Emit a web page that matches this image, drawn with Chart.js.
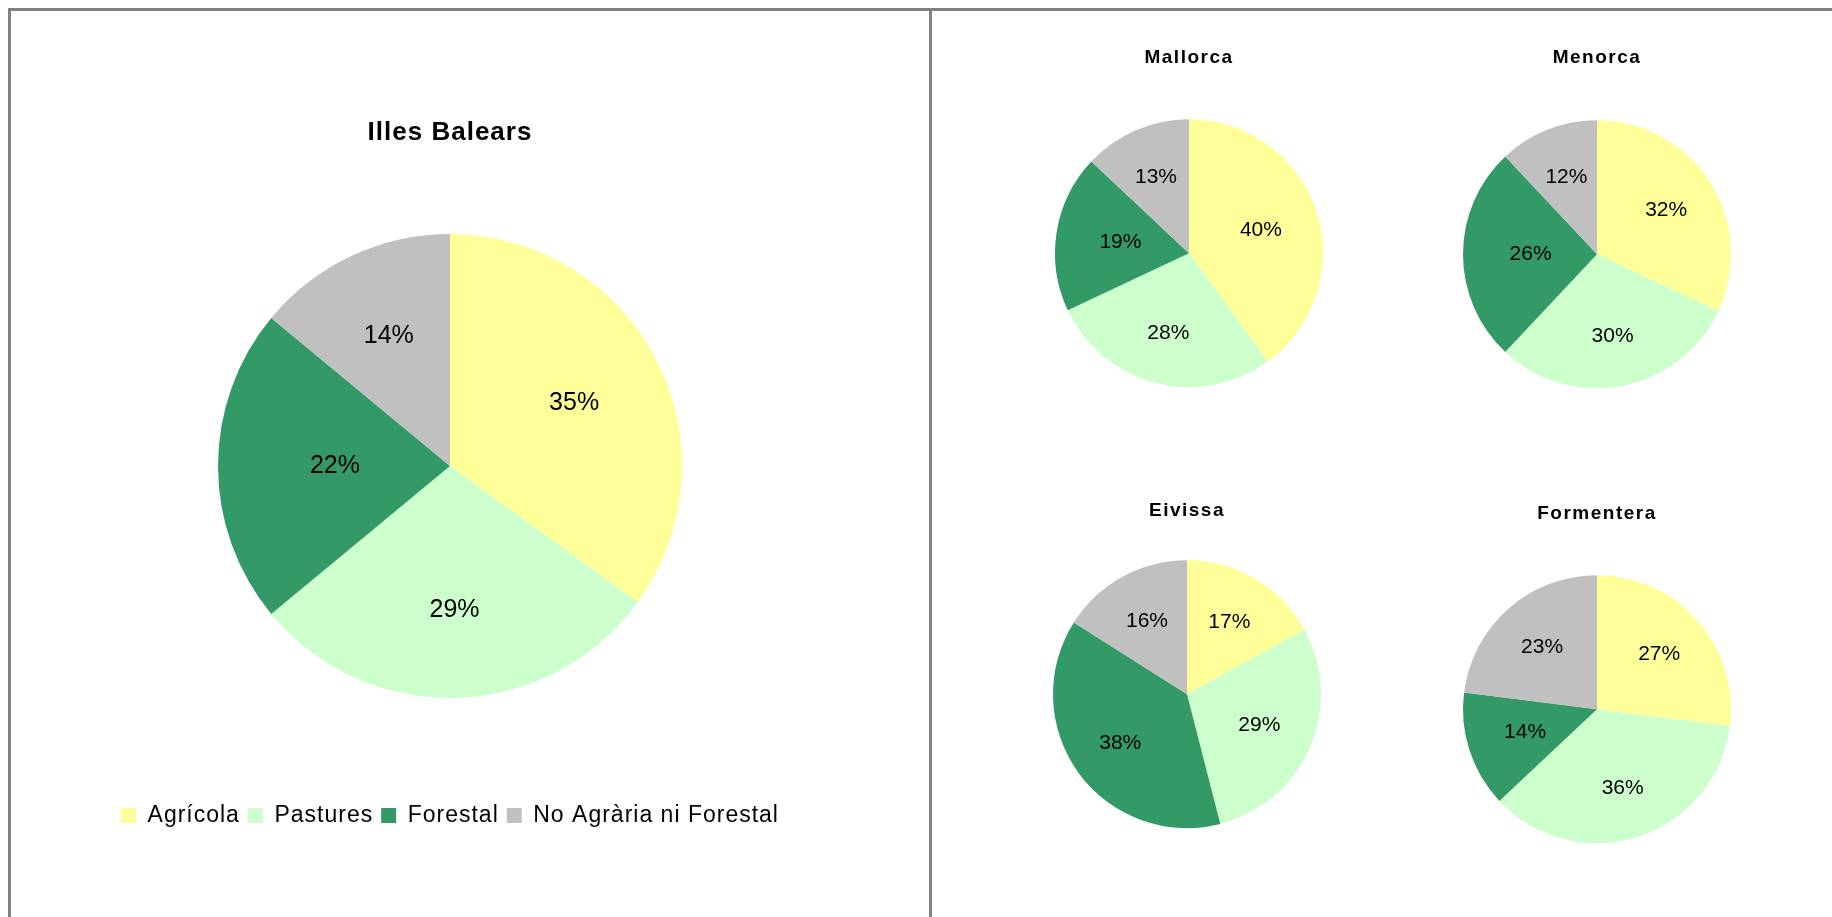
<!DOCTYPE html>
<html><head><meta charset="utf-8">
<script src="https://cdn.jsdelivr.net/npm/chart.js@4.4.0/dist/chart.umd.min.js"></script>
<style>
html,body{margin:0;padding:0;background:#fff;width:1832px;height:917px;overflow:hidden;position:relative;}
.ln{position:absolute;background:#808080;}
.cv{position:absolute;}
</style></head><body>
<div class="ln" style="left:8px;top:8px;width:1824px;height:3px"></div>
<div class="ln" style="left:8px;top:8px;width:3px;height:909px"></div>
<div class="ln" style="left:929px;top:8px;width:3px;height:909px"></div>
<div class="cv" style="left:11px;top:11px;width:918px;height:906px"><canvas id="c0"></canvas></div>
<div class="cv" style="left:989px;top:30px;width:400px;height:407px"><canvas id="c1"></canvas></div>
<div class="cv" style="left:1397px;top:30px;width:400px;height:409px"><canvas id="c2"></canvas></div>
<div class="cv" style="left:987px;top:470px;width:400px;height:396px"><canvas id="c3"></canvas></div>
<div class="cv" style="left:1397px;top:470px;width:400px;height:423px"><canvas id="c4"></canvas></div>
<script>
const categories = ['Agrícola', 'Pastures', 'Forestal', 'No Agrària ni Forestal'];
const balearsValues = [35, 29, 22, 14];
const mallorcaValues = [40, 28, 19, 13];
const menorcaValues = [32, 30, 26, 12];
const eivissaValues = [17, 29, 38, 16];
const formenteraValues = [27, 36, 14, 23];
const chartTitles = ['Illes Balears', 'Mallorca', 'Menorca', 'Eivissa', 'Formentera'];
const sliceColors = ['#FFFF99', '#CCFFCC', '#339966', '#C0C0C0'];
const FONT = '"Liberation Sans", Arial, sans-serif';

const pctLabels = {
  id: 'pctLabels',
  afterDatasetsDraw(chart, args, opts) {
    const ctx = chart.ctx;
    const meta = chart.getDatasetMeta(0);
    const vals = chart.data.datasets[0].data;
    ctx.save();
    ctx.letterSpacing = '0px';
    ctx.font = opts.size + 'px ' + FONT;
    ctx.fillStyle = '#000';
    ctx.textAlign = 'center';
    ctx.textBaseline = 'middle';
    meta.data.forEach((arc, i) => {
      const p = arc.getProps(['x', 'y', 'startAngle', 'endAngle', 'outerRadius'], true);
      const mid = (p.startAngle + p.endAngle) / 2;
      const c = Math.abs(Math.cos(mid));
      const d = p.outerRadius * 0.62 * (1 - 0.2 * Math.pow(c, 16));
      ctx.fillText(vals[i] + '%', p.x + Math.cos(mid) * d, p.y + Math.sin(mid) * d);
    });
    ctx.restore();
  }
};

const spacing = {
  id: 'spacing',
  beforeLayout(chart, args, opts) { if (opts.value) chart.ctx.letterSpacing = opts.value; },
  beforeDraw(chart, args, opts) { if (opts.value) chart.ctx.letterSpacing = opts.value; },
  beforeDatasetsDraw(chart) { chart.ctx.letterSpacing = '0px'; }
};

function makeChart(id, title, values, cfg) {
  return new Chart(document.getElementById(id), {
    type: 'pie',
    data: {
      labels: categories,
      datasets: [{ data: values, backgroundColor: sliceColors, borderWidth: 0, radius: cfg.radius }]
    },
    options: {
      responsive: true,
      maintainAspectRatio: false,
      animation: false,
      events: [],
      layout: { padding: cfg.layoutPadding },
      plugins: {
        tooltip: { enabled: false },
        title: {
          display: true, text: title, color: '#000',
          font: { family: FONT, size: cfg.titleSize, weight: 'bold', lineHeight: 1.2 },
          padding: cfg.titlePadding
        },
        legend: cfg.legend ? {
          display: true, position: 'bottom',
          labels: { color: '#000', font: { family: FONT, size: 23 }, boxWidth: 15, boxHeight: 15, padding: 8 }
        } : { display: false },
        pctLabels: { size: cfg.labelSize },
        spacing: { value: cfg.letterSpacing }
      }
    },
    plugins: [pctLabels, spacing]
  });
}

makeChart('c0', chartTitles[0], balearsValues, {
  radius: 232, titleSize: 26, titlePadding: { top: 106, bottom: -12.2 },
  layoutPadding: { left: 0, right: 40, top: 0, bottom: 80 }, legend: true, labelSize: 25,
  letterSpacing: '1px'
});
const smallCfg = (top) => ({
  radius: 134, titleSize: 19, titlePadding: { top: top, bottom: 0 },
  layoutPadding: 0, legend: false, labelSize: 21, letterSpacing: '1.5px'
});
makeChart('c1', chartTitles[1], mallorcaValues, smallCfg(16.6));
makeChart('c2', chartTitles[2], menorcaValues, smallCfg(16.6));
makeChart('c3', chartTitles[3], eivissaValues, smallCfg(29.6));
makeChart('c4', chartTitles[4], formenteraValues, smallCfg(32.6));
</script>
</body></html>
